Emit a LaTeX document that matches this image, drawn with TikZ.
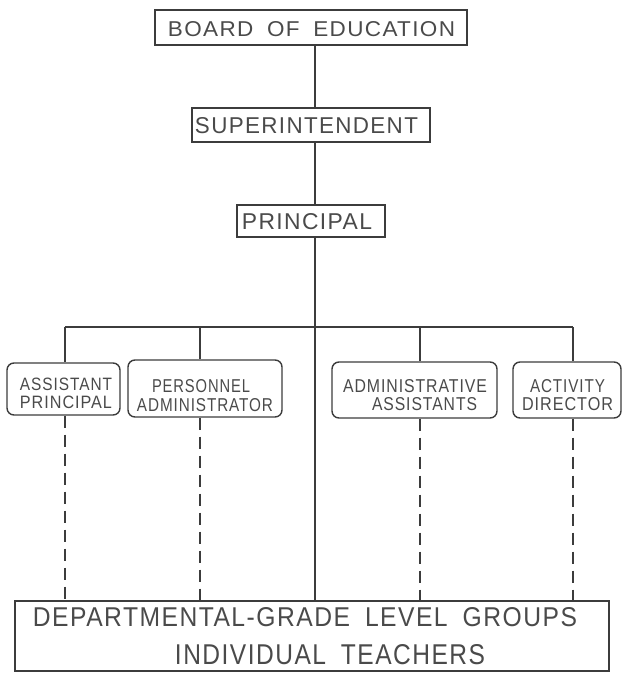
\documentclass[tikz,border=0pt]{standalone}
\usepackage{fontspec}
\usepackage{graphicx}
\setmainfont{Liberation Sans}
\newfontfamily\lettering[LetterSpace=6,WordSpace=1.8]{Liberation Sans}
\newcommand{\lbl}[3]{\resizebox{#1pt}{#2pt}{\lettering #3}}
\definecolor{ink}{HTML}{3C3C3C}
\definecolor{tink}{HTML}{4A4A4A}
\tikzset{
  x=1pt, y=1pt,
  sqbox/.style={draw=ink, line width=1.4pt, rectangle, inner sep=0pt},
  rdbox/.style={draw=ink, line width=1.4pt, rectangle, rounded corners=7pt, inner sep=0pt},
  txt/.style={inner sep=0pt, text=tink, anchor=center},
  ln/.style={draw=ink, line width=1.4pt},
  dln/.style={draw=ink, line width=1.4pt, dash pattern=on 12pt off 7pt},
}
\begin{document}
\begin{tikzpicture}
\useasboundingbox (0,0) rectangle (624,-676);
% boxes
\node[sqbox, minimum width=312pt, minimum height=35pt] (board) at (311,-27.5) {};
\node[sqbox, minimum width=238pt, minimum height=34pt] (super) at (311,-125) {};
\node[sqbox, minimum width=148pt, minimum height=32pt] (prin) at (311,-221) {};
\node[rdbox, minimum width=113pt, minimum height=52pt] (ap) at (63.5,-389) {};
\node[rdbox, minimum width=154pt, minimum height=57pt] (pa) at (205,-388.5) {};
\node[rdbox, minimum width=165pt, minimum height=56pt] (aa) at (414.5,-390) {};
\node[rdbox, minimum width=108pt, minimum height=56pt] (ad) at (567,-390) {};
\node[sqbox, minimum width=594pt, minimum height=70pt] (groups) at (312,-636) {};
% texts
\node[txt] (tboard) at (311.5,-29) {\lbl{287}{15}{BOARD OF EDUCATION}};
\node[txt] (tsuper) at (306.5,-126) {\lbl{223}{16}{SUPERINTENDENT}};
\node[txt] (tprin) at (307,-222) {\lbl{130}{16}{PRINCIPAL}};
\node[txt] (tap1) at (66,-384) {\lbl{92}{12.5}{ASSISTANT}};
\node[txt] (tap2) at (66,-402) {\lbl{92}{12.5}{PRINCIPAL}};
\node[txt] (tpa1) at (201,-386) {\lbl{98}{13}{PERSONNEL}};
\node[txt] (tpa2) at (205,-405) {\lbl{136}{13}{ADMINISTRATOR}};
\node[txt] (taa1) at (415,-386) {\lbl{144}{13}{ADMINISTRATIVE}};
\node[txt] (taa2) at (424.5,-404) {\lbl{105}{13}{ASSISTANTS}};
\node[txt] (tad1) at (567.5,-386) {\lbl{75}{13}{ACTIVITY}};
\node[txt] (tad2) at (567.5,-404) {\lbl{91}{13}{DIRECTOR}};
\node[txt] (tg1) at (305,-617) {\lbl{544}{19}{DEPARTMENTAL-GRADE LEVEL GROUPS}};
\node[txt] (tg2) at (330,-655) {\lbl{310}{20}{INDIVIDUAL TEACHERS}};
% connectors
\coordinate (mx) at (315,0);
\coordinate (d1) at (65,-327);
\coordinate (d2) at (200,-327);
\coordinate (d3) at (420,-327);
\coordinate (d4) at (573,-327);
\draw[ln] (board.south -| mx) -- (super.north -| mx);
\draw[ln] (super.south -| mx) -- (prin.north -| mx);
\draw[ln] (prin.south -| mx) -- (groups.north -| mx);
\draw[ln] (d1) -- (d4);
\draw[ln] (d1) -- (d1 |- ap.north);
\draw[ln] (d2) -- (d2 |- pa.north);
\draw[ln] (d3) -- (d3 |- aa.north);
\draw[ln] (d4) -- (d4 |- ad.north);
\draw[dln] (d1 |- ap.south) -- (d1 |- groups.north);
\draw[dln] (d2 |- pa.south) -- (d2 |- groups.north);
\draw[dln] (d3 |- aa.south) -- (d3 |- groups.north);
\draw[dln] (d4 |- ad.south) -- (d4 |- groups.north);
\end{tikzpicture}
\end{document}
